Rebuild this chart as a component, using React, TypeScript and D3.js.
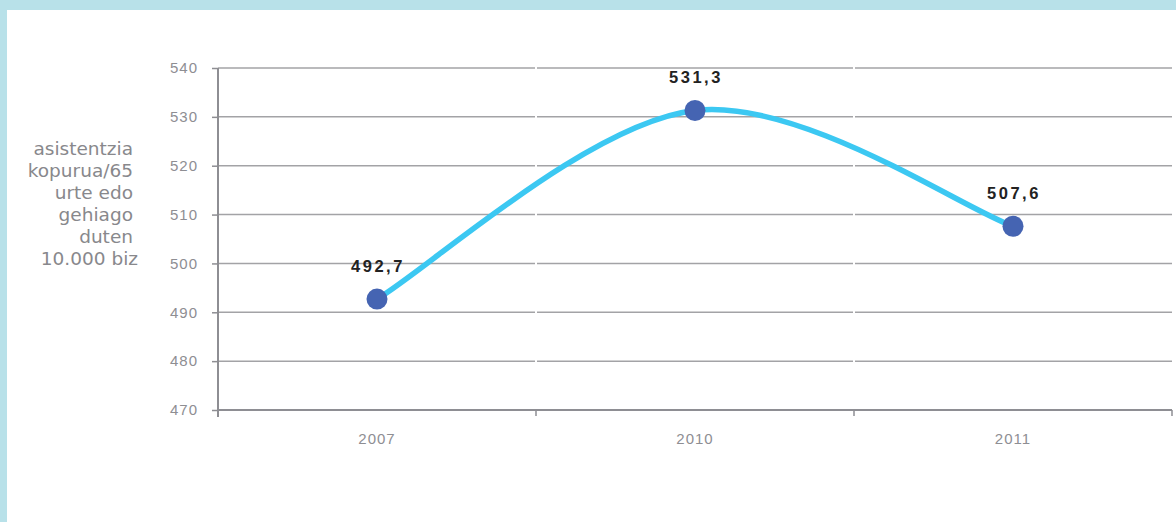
import { useEffect, useRef } from 'react'
import * as d3 from 'd3'

const years = ['2007', '2010', '2011']
const values = [492.7, 531.3, 507.6]
const valueLabels = ['492,7', '531,3', '507,6']
const yTicks = [470, 480, 490, 500, 510, 520, 530, 540]
const axisTitle = ['asistentzia', 'kopurua/65', 'urte edo', 'gehiago', 'duten', '10.000 biz']

const W = 1176
const H = 522

// Excel style smoothed line: Catmull-Rom tangents, end points use the neighbour only
function smoothPath(pts: [number, number][]) {
  const p = d3.path()
  const k = 1 / 6
  p.moveTo(pts[0][0], pts[0][1])
  for (let i = 0; i < pts.length - 1; i++) {
    const p0 = pts[i - 1] || pts[i]
    const p1 = pts[i]
    const p2 = pts[i + 1]
    const p3 = pts[i + 2] || pts[i + 1]
    p.bezierCurveTo(
      p1[0] + k * (p2[0] - p0[0]), p1[1] + k * (p2[1] - p0[1]),
      p2[0] - k * (p3[0] - p1[0]), p2[1] - k * (p3[1] - p1[1]),
      p2[0], p2[1]
    )
  }
  return p.toString()
}

export default function App() {
  const svgRef = useRef<SVGSVGElement>(null)

  useEffect(() => {
    if (!svgRef.current) return
    const svg = d3.select(svgRef.current)
    svg.selectAll('*').remove()

    // frame
    svg.append('rect').attr('width', W).attr('height', H).attr('fill', '#b8e1e9')
    svg.append('rect').attr('x', 7).attr('y', 10).attr('width', W - 7).attr('height', H - 10).attr('fill', '#ffffff')

    const margin = { top: 68, right: 4, bottom: 112, left: 218 }
    const innerWidth = W - margin.left - margin.right
    const innerHeight = H - margin.top - margin.bottom

    const g = svg.append('g').attr('transform', `translate(${margin.left},${margin.top})`)

    const x = d3.scaleBand().domain(years).range([0, innerWidth])
    const y = d3.scaleLinear().domain([470, 540]).range([innerHeight, 0])

    // grid lines, split per category with small gaps like the original
    yTicks.filter(t => t !== 470).forEach(t => {
      years.forEach((yr, i) => {
        const x0 = (x(yr) || 0) + (i === 0 ? 0 : 1)
        const x1 = (x(yr) || 0) + x.bandwidth() - (i === years.length - 1 ? 0 : 1)
        g.append('line')
          .attr('x1', x0).attr('x2', x1)
          .attr('y1', y(t)).attr('y2', y(t))
          .attr('stroke', '#a3a3a6')
          .attr('stroke-width', 1.5)
      })
    })

    // y axis
    const yAxis = g.append('g').call(
      d3.axisLeft(y).tickValues(yTicks).tickSize(6).tickPadding(14).tickFormat(d3.format('d'))
    )
    yAxis.select('.domain').remove()
    yAxis.selectAll('line').attr('stroke', '#8e8e93').attr('stroke-width', 1.5)
    yAxis.selectAll('text')
      .attr('fill', '#8e8e93')
      .attr('font-size', '15px')
      .attr('letter-spacing', '1px')
      .attr('font-family', 'Liberation Sans, Arial, sans-serif')
    g.append('line')
      .attr('x1', 0).attr('x2', 0).attr('y1', 0).attr('y2', innerHeight + 7)
      .attr('stroke', '#8e8e93').attr('stroke-width', 2)

    // x axis
    g.append('line')
      .attr('x1', 0).attr('x2', innerWidth).attr('y1', innerHeight).attr('y2', innerHeight)
      .attr('stroke', '#8e8e93').attr('stroke-width', 2)
    years.forEach((yr, i) => {
      if (i === 0) return
      const bx = x(yr) || 0
      g.append('line')
        .attr('x1', bx).attr('x2', bx).attr('y1', innerHeight).attr('y2', innerHeight + 6)
        .attr('stroke', '#8e8e93').attr('stroke-width', 1.5)
    })
    g.append('line')
      .attr('x1', innerWidth).attr('x2', innerWidth).attr('y1', innerHeight).attr('y2', innerHeight + 6)
      .attr('stroke', '#8e8e93').attr('stroke-width', 1.5)
    years.forEach(yr => {
      g.append('text')
        .attr('x', (x(yr) || 0) + x.bandwidth() / 2)
        .attr('y', innerHeight + 34)
        .attr('text-anchor', 'middle')
        .attr('fill', '#8e8e93')
        .attr('font-size', '15px')
        .attr('letter-spacing', '1px')
        .attr('font-family', 'Liberation Sans, Arial, sans-serif')
        .text(yr)
    })

    // axis title
    const title = svg.append('text')
      .attr('text-anchor', 'end')
      .attr('fill', '#88888c')
      .attr('font-size', '18.5px')
      .attr('font-family', 'DejaVu Sans, Verdana, sans-serif')
    axisTitle.forEach((line, i) => {
      title.append('tspan')
        .attr('x', i === axisTitle.length - 1 ? 138 : 133)
        .attr('y', 155 + i * 22)
        .text(line)
    })

    // line
    const pts: [number, number][] = years.map((yr, i) => [
      (x(yr) || 0) + x.bandwidth() / 2,
      y(values[i]),
    ])
    g.append('path')
      .attr('d', smoothPath(pts))
      .attr('fill', 'none')
      .attr('stroke', '#3cc8f2')
      .attr('stroke-width', 5.5)
      .attr('stroke-linecap', 'round')

    // markers + labels
    pts.forEach((p, i) => {
      g.append('circle')
        .attr('cx', p[0]).attr('cy', p[1]).attr('r', 10.5)
        .attr('fill', '#4564b2')
      g.append('text')
        .attr('x', p[0] + 1).attr('y', p[1] - 27.5)
        .attr('text-anchor', 'middle')
        .attr('fill', '#222222')
        .attr('font-size', '16.5px')
        .attr('font-weight', 'bold')
        .attr('letter-spacing', '2.5px')
        .attr('font-family', 'Liberation Sans, Arial, sans-serif')
        .text(valueLabels[i])
    })
  }, [])

  return (
    <svg
      ref={svgRef}
      width={W}
      height={H}
      style={{ position: 'absolute', left: 0, top: 0, display: 'block' }}
    />
  )
}
